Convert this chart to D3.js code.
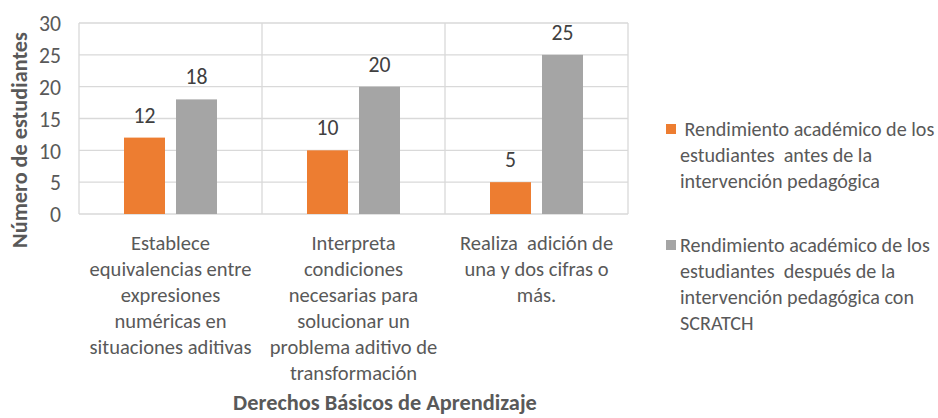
<!DOCTYPE html>
<html><head><meta charset="utf-8">
<script src="https://cdn.jsdelivr.net/npm/d3@7"></script>
<style>body{margin:0;background:#fff}svg{display:block}text{white-space:pre}</style>
</head><body>
<svg id="c" width="938" height="418"></svg>
<script>
const categories = ["Establece equivalencias entre expresiones numéricas en situaciones aditivas",
  "Interpreta condiciones necesarias para solucionar un problema aditivo de transformación",
  "Realiza  adición de una y dos cifras o más."];
const categoryLines = [
  ["Establece","equivalencias entre","expresiones","numéricas en","situaciones aditivas"],
  ["Interpreta","condiciones","necesarias para","solucionar un","problema aditivo de","transformación"],
  ["Realiza  adición de","una y dos cifras o","más."]
];
const seriesNames = ["antes","despues"];
const antes = [12, 10, 5];
const despues = [18, 20, 25];
const yTicks = [0,5,10,15,20,25,30];
const legendLines = [
  [" Rendimiento académico de los","estudiantes  antes de la","intervención pedagógica"],
  ["Rendimiento académico de los","estudiantes  después de la","intervención pedagógica con","SCRATCH"]
];
const xTitle = "Derechos Básicos de Aprendizaje";
const yTitle = "Número de estudiantes";
const colors = ["#ED7D31","#A5A5A5"];
const font = "Carlito, Calibri, Lato, sans-serif";
const txt = "#595959";

const svg = d3.select("#c");
// scale a text selection's font-size so that its widest line measures `target` px
function fit(sel, target){
  let w = 0;
  sel.each(function(){ w = Math.max(w, this.getComputedTextLength()); });
  const fs = parseFloat(sel.attr("font-size"));
  sel.attr("font-size", fs*target/w);
}
function measureSize(str, weight, target){
  const t = svg.append("text").attr("font-family",font).attr("font-size",20).attr("font-weight",weight).text(str);
  const w = t.node().getComputedTextLength(); t.remove();
  return 20*target/w;
}
const tickFS = measureSize("30","normal",22);
const catFS = measureSize("equivalencias entre","normal",162);
const legFS = measureSize("Rendimiento académico de los","normal",250);

const L=79,R=628,T=23,B=214;
const x0 = d3.scaleBand().domain(d3.range(categories.length)).range([L,R]);
const x1 = d3.scaleBand().domain(seriesNames).range([45,138]).paddingInner(11/52);
const y = d3.scaleLinear().domain([0,30]).range([B,T]);

// grid
svg.append("g").selectAll("line").data(yTicks).join("line")
  .attr("x1",L).attr("x2",R).attr("y1",d=>y(d)).attr("y2",d=>y(d))
  .attr("stroke","#D9D9D9").attr("stroke-width",1.3);
const vb = d3.range(categories.length+1).map(i=>L+i*x0.bandwidth());
svg.append("g").selectAll("line").data(vb).join("line")
  .attr("x1",d=>d).attr("x2",d=>d).attr("y1",T).attr("y2",B)
  .attr("stroke","#D9D9D9").attr("stroke-width",1.3);

// y axis labels
const yAxis = d3.axisLeft(y).tickValues(yTicks).tickSize(0).tickPadding(18);
const ga = svg.append("g").attr("transform",`translate(${L},0)`).call(yAxis);
ga.select(".domain").remove();
ga.selectAll("text").attr("font-family",font).attr("font-size",tickFS).attr("fill",txt).attr("dy","0.36em");

// bars
const data = categories.map((c,i)=>({i, vals:[antes[i],despues[i]]}));
const groups = svg.append("g").selectAll("g").data(data).join("g")
  .attr("transform",d=>`translate(${x0(d.i)},0)`);
groups.selectAll("rect").data(d=>d.vals.map((v,k)=>({k,v}))).join("rect")
  .attr("x",d=>x1(seriesNames[d.k])).attr("width",x1.bandwidth())
  .attr("y",d=>y(d.v)).attr("height",d=>B-y(d.v)).attr("fill",d=>colors[d.k]);
groups.selectAll("text.v").data(d=>d.vals.map((v,k)=>({k,v}))).join("text")
  .attr("class","v")
  .attr("x",d=>x1(seriesNames[d.k])+x1.bandwidth()/2).attr("y",d=>y(d.v)-15)
  .attr("text-anchor","middle").attr("font-family",font).attr("font-size",tickFS).attr("fill","#404040")
  .text(d=>d.v);

// category labels
categoryLines.forEach((lines,i)=>{
  const t = svg.append("text").attr("text-anchor","middle").attr("font-family",font)
    .attr("font-size",catFS).attr("fill",txt);
  lines.forEach((ln,j)=>t.append("tspan").attr("x",x0(i)+x0.bandwidth()/2).attr("y",250+j*26).text(ln));
});

// axis titles
const xt = svg.append("text").attr("x",385).attr("y",410).attr("text-anchor","middle")
  .attr("font-family",font).attr("font-size",20).attr("font-weight","bold").attr("fill",txt)
  .text(xTitle);
fit(xt,304);
const yt = svg.append("text").attr("transform","translate(27,140) rotate(-90)").attr("text-anchor","middle")
  .attr("font-family",font).attr("font-size",20).attr("font-weight","bold").attr("fill",txt)
  .text(yTitle);
fit(yt,216);

// legend
const legY = [129, 245];
legendLines.forEach((lines,k)=>{
  svg.append("rect").attr("x",666).attr("y",legY[k]-5).attr("width",10).attr("height",10).attr("fill",colors[k]);
  const t = svg.append("text").attr("font-family",font).attr("font-size",legFS).attr("fill",txt);
  lines.forEach((ln,j)=>t.append("tspan").attr("x",680).attr("y",legY[k]+7+j*26).text(ln));
});
</script>
</body></html>
